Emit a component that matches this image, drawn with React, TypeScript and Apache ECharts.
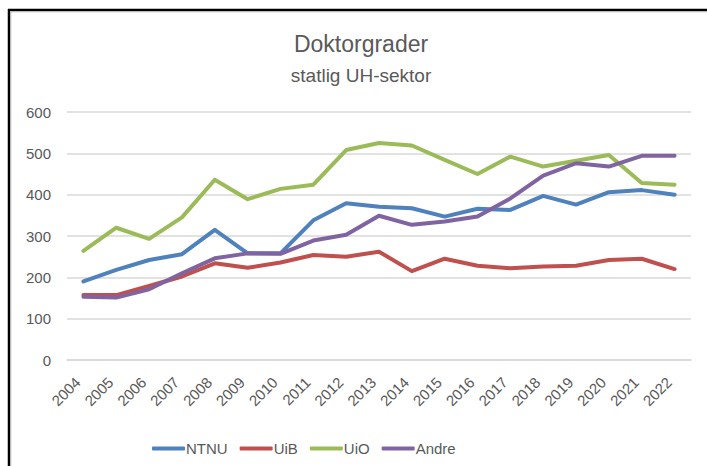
import React, { useEffect, useRef } from "react";
import * as echarts from "echarts";

const years = ["2004","2005","2006","2007","2008","2009","2010","2011","2012","2013","2014","2015","2016","2017","2018","2019","2020","2021","2022"];
const ntnu = [190,218,242,256,315,258,258,338,379,371,367,347,366,363,397,376,406,411,400];
const uib = [157,157,179,202,234,223,236,254,250,262,215,245,228,222,226,228,242,245,220];
const uio = [264,320,293,345,436,389,414,424,508,525,519,484,450,492,468,482,496,428,424];
const andre = [153,151,171,210,246,258,257,289,303,349,327,335,347,391,446,476,468,494,494];

const seriesNames = ["NTNU", "UiB", "UiO", "Andre"];
const seriesColors = ["#4F81BD", "#C0504D", "#9BBB59", "#8064A2"];
const seriesData = [ntnu, uib, uio, andre];

const FONT = "'Liberation Sans', Arial, sans-serif";

export default function App() {
  const ref = useRef<HTMLDivElement>(null);
  useEffect(() => {
    if (!ref.current) return;
    const chart = echarts.init(ref.current, null, { renderer: "svg" });
    chart.setOption({
      animation: false,
      backgroundColor: "#ffffff",
      textStyle: { fontFamily: FONT },
      graphic: [
        { type: "line", shape: { x1: 8, y1: 10, x2: 707, y2: 10 }, style: { stroke: "#000", lineWidth: 2.5 } },
        { type: "line", shape: { x1: 9, y1: 9, x2: 9, y2: 466 }, style: { stroke: "#000", lineWidth: 2.5 } },
        { type: "line", shape: { x1: 10.5, y1: 11.8, x2: 707, y2: 11.8 }, style: { stroke: "#bbb", lineWidth: 1 } },
        { type: "line", shape: { x1: 10.8, y1: 11, x2: 10.8, y2: 466 }, style: { stroke: "#bbb", lineWidth: 1 } },
        { type: "text", x: 361, y: 44, style: { text: "Doktorgrader", font: `23px ${FONT}`, fill: "#595959", textAlign: "center", textVerticalAlign: "middle" } },
        { type: "text", x: 361, y: 75, style: { text: "statlig UH-sektor", font: `19px ${FONT}`, fill: "#595959", textAlign: "center", textVerticalAlign: "middle" } },
      ],
      legend: {
        left: 147,
        top: 436,
        itemWidth: 33,
        itemHeight: 4,
        itemGap: 12,
        icon: "roundRect",
        textStyle: { color: "#595959", fontSize: 15, fontFamily: FONT, padding: [0, 0, 0, -4] },
        data: seriesNames,
      },
      grid: { left: 67, right: 16, top: 112, bottom: 106 },
      xAxis: {
        type: "category",
        data: years,
        boundaryGap: true,
        axisLine: { lineStyle: { color: "#d9d9d9", width: 1.5 } },
        axisTick: { show: false },
        axisLabel: { rotate: 45, color: "#595959", fontSize: 15, margin: 14, padding: [0, 8, 0, 0], interval: 0, fontFamily: FONT },
      },
      yAxis: {
        type: "value",
        min: 0,
        max: 600,
        interval: 100,
        axisLine: { show: false },
        axisTick: { show: false },
        axisLabel: { color: "#595959", fontSize: 15, margin: 16, fontFamily: FONT },
        splitLine: { lineStyle: { color: "#d9d9d9", width: 1.5 } },
      },
      series: seriesNames.map((name, i) => ({
        name,
        type: "line",
        data: seriesData[i],
        symbol: "none",
        color: seriesColors[i],
        lineStyle: { width: 4, color: seriesColors[i], cap: "round", join: "round" },
      })),
    });
    return () => chart.dispose();
  }, []);
  return <div ref={ref} style={{ position: "fixed", left: 0, top: 0, width: 707, height: 466 }} />;
}
